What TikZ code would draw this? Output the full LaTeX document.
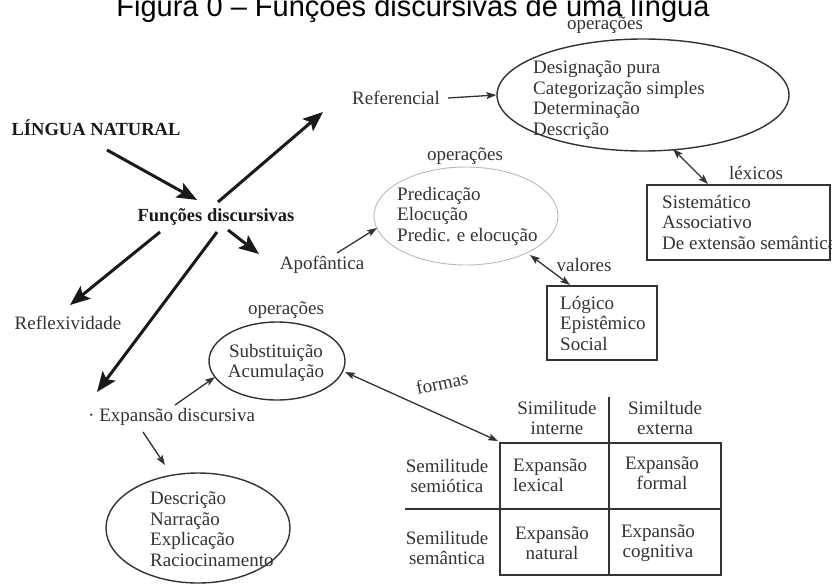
\documentclass[tikz,border=0pt]{standalone}
\usepackage{fontspec}
\setmainfont{Liberation Serif}
\newfontfamily\titlefont{Liberation Sans}
\usetikzlibrary{arrows.meta,shapes.geometric}
\definecolor{ink}{gray}{0.2}
\tikzset{
  txt/.style={inner sep=0pt, font=\fontsize{19}{20.5}\selectfont, text=ink, align=left},
  bold/.style={txt, font=\fontsize{18.5}{20.5}\selectfont\bfseries, text=black!90},
  oval/.style={draw=ink, line width=1.4pt, ellipse, inner sep=0pt},
  thickarrow/.style={line width=3pt, black!90, -{Stealth[length=20pt,width=16pt,inset=4pt]}},
  thinarrow/.style={line width=1.3pt, ink, -{Stealth[length=10pt,width=7pt,inset=2pt]}},
  thinboth/.style={line width=1.3pt, ink, {Stealth[length=10pt,width=7pt,inset=2pt]}-{Stealth[length=10pt,width=7pt,inset=2pt]}},
  boxline/.style={draw=ink, line width=1.4pt},
  tabline/.style={draw=ink, line width=1.5pt}
}
\begin{document}
\begin{tikzpicture}[x=1pt,y=-1pt]
\useasboundingbox (0,0) rectangle (832,584);
% title
\node[anchor=base, inner sep=0pt, font=\titlefont\fontsize{29}{32}\selectfont] (title) at (413,16) {Figura 0 – Funções discursivas de uma língua};

% main nodes
\node[bold] (ling) at (96,128) {LÍNGUA NATURAL};
\node[bold] (func) at (216,217) {Funções discursivas};
\node[txt] (ref) at (396,98) {Referencial};
\node[txt] (apo) at (322,265) {Apofântica};
\node[txt] (refl) at (68,323) {Reflexividade};
\node[txt, anchor=west] (exp) at (88,417) {· Expansão discursiva};

% Referencial operations
\node[txt] (ops1) at (605,25) {operações};
\node[oval, minimum width=292pt, minimum height=112pt] (ell1) at (643,95) {};
\node[txt, anchor=west] (ell1t) at (533,100) {Designação pura\\Categorização simples\\Determinação\\Descrição};
\node[txt] (lexl) at (756,173) {léxicos};
\draw[boxline] (647,185) rectangle (830,260);
\node[txt, anchor=west] (lext) at (662,222) {Sistemático\\Associativo\\De extensão semântica};

% Apofantica operations
\node[txt] (ops2) at (465,156) {operações};
\node[draw=gray!55, line width=0.9pt, ellipse, inner sep=0pt, minimum width=184pt, minimum height=98pt] (ell2) at (466,216) {};
\node[txt, anchor=west] (ell2t) at (397,216) {Predicação\\Elocução\\Predic. e elocução};
\node[txt] (vall) at (584,265) {valores};
\draw[boxline] (547,286) rectangle (657,360);
\node[txt, anchor=west] (valt) at (560,323) {Lógico\\Epistêmico\\Social};

% Expansao operations
\node[txt] (ops3) at (286,310) {operações};
\node[oval, minimum width=136pt, minimum height=78pt] (ell3) at (277,361) {};
\node[txt, align=center] (ell3t) at (276,363) {Substituição\\Acumulação};
\node[oval, minimum width=184pt, minimum height=110pt] (ell4) at (198,528) {};
\node[txt, anchor=west] (ell4t) at (150,529) {Descrição\\Narração\\Explicação\\Raciocinamento};
\node[txt, rotate=12] (formas) at (442,383) {formas};

% table
\draw[tabline] (500,443) rectangle (721,575);
\draw[tabline] (609,397) -- (609,575);
\draw[tabline] (405,509) -- (721,509);
\node[txt, align=center] (h1) at (557,418) {Similitude\\interne};
\node[txt, align=center] (h2) at (665,418) {Similtude\\externa};
\node[txt, align=center] (r1) at (447,476) {Semilitude\\semiótica};
\node[txt, align=center] (r2) at (447,548) {Semilitude\\semântica};
\node[txt, anchor=west] (c11) at (513,475) {Expansão\\lexical};
\node[txt, align=center] (c12) at (662,473) {Expansão\\formal};
\node[txt, align=center] (c21) at (552,543) {Expansão\\natural};
\node[txt, align=center] (c22) at (658,543) {Expansão\\cognitiva};
\coordinate (tblcorner) at (498,441);

% connector endpoints
\coordinate (a1s) at (107,150); \coordinate (a1e) at (197,200);
\coordinate (a2s) at (218,202); \coordinate (a2e) at (323,112);
\coordinate (a3s) at (228,230); \coordinate (a3e) at (259,254);
\coordinate (a4s) at (160,232); \coordinate (a4e) at (70,305);
\coordinate (a5s) at (217,232); \coordinate (a5e) at (97,392);

\draw[thickarrow] (a1s) -- (a1e);
\draw[thickarrow] (a2s) -- (a2e);
\draw[thickarrow] (a3s) -- (a3e);
\draw[thickarrow] (a4s) -- (a4e);
\draw[thickarrow] (a5s) -- (a5e);

\draw[thinarrow] (ref.east) ++(8,0) -- (ell1.west);
\draw[thinboth] (673,149) -- (708,184);
\draw[thinarrow] (337,253) -- (377,228);
\draw[thinboth] (530,255) -- (570,285);
\draw[thinarrow] (175,405) -- (215,377);
\draw[thinarrow] (143,432) -- (165,465);
\draw[thinboth] (345,372) -- (tblcorner);
\end{tikzpicture}
\end{document}
